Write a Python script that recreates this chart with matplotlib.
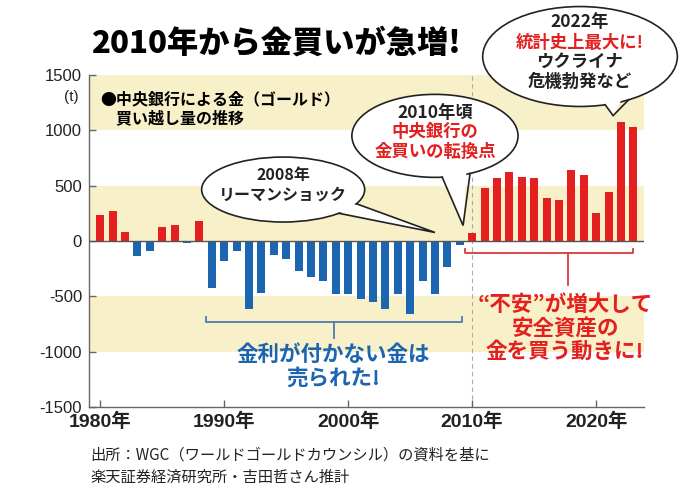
import matplotlib
matplotlib.use("Agg")
import matplotlib.pyplot as plt
from matplotlib.patches import Ellipse, Polygon
import numpy as np

plt.rcParams['font.family'] = ['Liberation Sans', 'Noto Sans CJK JP']
JP = ['Noto Sans CJK JP', 'DejaVu Sans']

# 中央銀行の金買い越し量 (t)
years = list(range(1980, 2024))
net_buy = [235, 274, 84, -140, -88, 126, 145, -18, 178, -427,
           -180, -90, -617, -466, -130, -165, -274, -325, -364, -479,
           -479, -520, -547, -617, -479, -662, -364, -479, -235, -36,
           76, 476, 566, 626, 575, 566, 386, 370, 641, 599,
           253, 443, 1075, 1027]
yticks = [-1500, -1000, -500, 0, 500, 1000, 1500]
xticks = [1980, 1990, 2000, 2010, 2020]
xticklabels = [f'{y}年' for y in xticks]

RED = '#e3201f'
BLUE = '#1c65b0'
BAND = '#f8f0c9'
GRAY = '#666666'

fig = plt.figure(figsize=(6.8, 4.88), dpi=100)
ax = fig.add_axes([89/680, 81/488, 555/680, 332/488])
ax.set_xlim(1979.1, 2023.86)
ax.set_ylim(-1500, 1500)

# 背景の帯
for lo, hi in [(1000, 1500), (0, 500), (-1000, -500)]:
    ax.axhspan(lo, hi, color=BAND, zorder=0, lw=0)

colors = [RED if v >= 0 else BLUE for v in net_buy]
ax.bar(years, net_buy, width=0.65, color=colors, zorder=2)
ax.axhline(0, color='#555555', lw=1, zorder=3)
ax.axvline(2010, color='#aaaaaa', lw=0.8, dashes=(4, 3), zorder=1)

for s in ['top', 'right']:
    ax.spines[s].set_visible(False)
for s in ['left', 'bottom']:
    ax.spines[s].set_color(GRAY)
    ax.spines[s].set_linewidth(1)
ax.set_yticks(yticks)
ax.set_yticklabels([str(v) for v in yticks], fontsize=12, color='#222222')
ax.set_xticks(xticks)
ax.set_xticklabels(xticklabels, fontsize=14, fontweight='bold', color='#222222')
ax.tick_params(direction='in', length=5, color=GRAY, width=1)
ax.tick_params(axis='y', pad=5)
ax.tick_params(axis='x', pad=4)

ax.text(1977.7, 1305, '(t)', ha='center', va='center', fontsize=11,
        color='#222222', clip_on=False)

fig.text(91/680, 1 - 43/488, '2010年から金買いが急増!', fontsize=22.5,
         fontweight='heavy', family=JP, ha='left', va='center')

ax.text(1980.0, 1195, '●中央銀行による金（ゴールド）\n\u3000買い越し量の推移',
        fontsize=11.5, fontweight='bold', family=JP, ha='left', va='center',
        linespacing=1.25, zorder=5)


def bubble(cx, cy, w, h, tip, a1, a2, lines, size):
    e = Ellipse((cx, cy), w, h, facecolor='white', edgecolor='#222222',
                lw=1.2, zorder=6, clip_on=False)
    ax.add_patch(e)
    t = np.radians([a1, a2])
    ex = cx + w / 2 * np.cos(t)
    ey = cy + h / 2 * np.sin(t)
    ix = cx + 0.9 * w / 2 * np.cos(t)
    iy = cy + 0.9 * h / 2 * np.sin(t)
    ax.add_patch(Polygon([(ix[0], iy[0]), tip, (ix[1], iy[1])], closed=True,
                         facecolor='white', edgecolor='none', zorder=7,
                         clip_on=False))
    ax.plot([ex[0], tip[0], ex[1]], [ey[0], tip[1], ey[1]], color='#222222',
            lw=1.2, zorder=8, clip_on=False, solid_joinstyle='miter')
    for txt, col, y in lines:
        ax.text(cx, y, txt, color=col, fontsize=size, fontweight='bold',
                family=JP, ha='center', va='center', zorder=9)


bubble(1994.76, 465, 13.15, 587, (2007.0, 77), -47, -26,
       [('2008年', '#222222', 600), ('リーマンショック', '#222222', 420)], 11.5)
bubble(2007.0, 950, 13.4, 750, (2009.27, 140), -85, -65,
       [('2010年頃', '#222222', 1160), ('中央銀行の', RED, 989),
        ('金買いの転換点', RED, 808)], 12.5)
bubble(2018.7, 1667, 15.7, 903, (2021.37, 1133), -75, -60,
       [('2022年', '#222222', 1983), ('統計史上最大に!', RED, 1793),
        ('ウクライナ', '#222222', 1621), ('危機勃発など', '#222222', 1441)], 12.5)


def bracket(x0, x1, y, yend, xm, ytick, col):
    ax.plot([x0, x0, x1, x1], [yend, y, y, yend], color=col, lw=1.3,
            zorder=4, clip_on=False)
    ax.plot([xm, xm], [y, ytick], color=col, lw=1.3, zorder=4, clip_on=False)


bracket(1988.55, 2009.2, -736, -691, 1998.87, -872, '#4a7fab')
ax.text(1998.8, -1130, '金利が付かない金は\n売られた!', color=BLUE, fontsize=15.5,
        fontweight='bold', family=JP, ha='center', va='center',
        linespacing=1.15, zorder=5)

bracket(2009.4, 2023.0, -104, -68, 2017.7, -402, '#d83a3a')
ax.text(2017.5, -785, '“不安”が増大して\n安全資産の\n金を買う動きに!', color=RED,
        fontsize=15.5, fontweight='bold', family=JP, ha='center', va='center',
        linespacing=1.15, zorder=5)

fig.text(90/680, 1 - 466/488,
         '出所：WGC（ワールドゴールドカウンシル）の資料を基に\n楽天証券経済研究所・吉田哲さん推計',
         fontsize=11, family=JP, ha='left', va='center', linespacing=1.45,
         color='#222222')

fig.savefig('out.png', dpi=100)
